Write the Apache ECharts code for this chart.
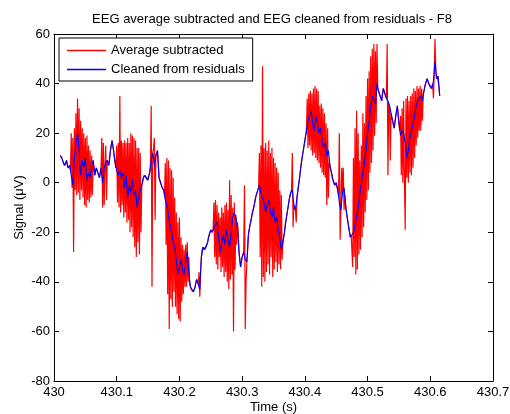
<!DOCTYPE html>
<html>
<head>
<meta charset="utf-8">
<script src="https://cdn.jsdelivr.net/npm/echarts@6/dist/echarts.min.js"></script>
<style>
  html, body { margin: 0; padding: 0; background: #fff; }
  #chart { width: 510px; height: 414px; }
</style>
</head>
<body>
<div id="chart"></div>
<script>
// Time base of the F8 channel excerpt (s)
const startTime = 430.01;
const averageStep = 0.00125;
const cleanedStep = 0.0025;

// EEG after average artifact subtraction (µV)
const averageSubtracted = [
  11, 10.5, 10, 9, 8, 7, 7, 8, 9, 7, 6, 6, 7, 5, 20, -2, 18, -28, 22, -3,
  28, -5, 34, -4, 30, -7, 25, -3, 22, -6, 20, -9, 18, -10, 19, -7, 15, -8, 13, -6,
  11, -5, 9, 6, 3, 5, 6, 5, 4, 3, 2, 4, 6, 18, -10, 16, -9, 6, 15, -7,
  9, 8, 7, 10, 13, 15, 17, 15, 13, 10, 8, 6, 15, -8, 16, -10, 35, -12, 17, -9,
  16, -14, 17, -12, 16, -16, 18, -15, 16, -20, 20, -18, 19, -22, 18, -26, 17, -30, 14, -24,
  14, -29, 12, -20, -1, 0, 2, 3, 3, 2, 2, 1, 1, 3, 4, 6, 31, -42, 12, 14,
  18, -15, 11, 12, 13, 8, 2, 1, 0, -1, -2, -2, -3, -5, 8, -25, 10, -45, 9, -59,
  6, -47, 5, -50, 2, -44, -6, -50, -12, -53, -16, -55, -14, -56, -22, -48, -25, -45, -27, -42,
  -25, -42, -24, -40, -30, -41, -42, -43, -43, -44, -44, -43, -42, -40, -39, -40, -41, -36, -46, -36,
  -30, -27, -26, -27, -27, -26, -26, -25, -24, -22, -21, -20, -19, -20, -20, -19, -8, -30, -7, -33,
  -9, -35, -12, -30, -14, -36, -10, -34, -12, -38, -9, -36, -8, -40, -11, -43, 1, -39, -5, -37,
  -10, -60, -8, -35, -13, -25, -16, -20, -28, -31, -34, -32, -30, -29, -28, -1, -59, -40, -32, -27,
  -21, -19, -17, -16, -14, -12, -11, -10, -8, -6, -5, -4, -3, -2, 12, -30, 15, -42, 47, -38,
  14, -40, 16, -36, 13, -33, 17, -37, 12, -30, 14, -38, 10, -35, 8, -32, 6, -36, 4, -33,
  -3, -35, -5, -31, -24, -22, -20, -17, -15, -13, -11, -9, -7, -5, -4, -3, 12, -18, -9, -10,
  -11, -16, -6, -3, -1, 1, 4, 7, 9, 11, 13, 15, 17, 19, 21, 34, 14, 36, 15, 37,
  13, 36, 11, 38, 12, 39, 10, 38, 9, 37, 8, 31, 6, 32, 4, 30, 3, 28, 2, 24,
  -9, 22, -6, 8, 7, 5, 4, 2, 1, 0, -1, -1, 0, -2, -3, -5, 20, -23, -11, 6,
  -4, 6, -11, -5, -9, -12, -14, -16, -18, -20, -22, -21, -21, -34, 10, -30, 22, -37, 29, -35,
  20, -29, 9, -27, 15, -22, 28, -18, 24, -12, 35, -7, 42, -3, 45, 4, 51, 8, 54, 13,
  56, 19, 53, 24, 56, 38, 37, 36, 35, 34, 33, 36, 38, 37, 36, 35, 34, 56, 3, 32,
  31, 9, 28, 26, 25, 23, 22, 25, 27, 29, 31, 27, 24, 21, 27, 3, 30, 0, 33, 2,
  -19, 34, 2, 35, 0, 33, 4, 35, 3, 36, 6, 38, 10, 37, 15, 39, 18, 38, 21, 39,
  21, 38, 25, 36, 37, 39, 40, 41, 42, 41, 40, 39, 39, 38, 38, 40, 34, 44, 58, 46,
  42, 43, 43, 39, 35
];

// EEG cleaned from residual artifacts (µV)
const cleanedFromResiduals = [
  11, 10, 8, 7, 9, 6, 7, 3, -1, 10,
  16, 20, 13, 3, 9, 6, 10, 1, 4, 2,
  7, 9, 3, 6, 4, 2, 6, 0, 6, 8,
  9, 7, 13, 17, 13, 8, 5, 3, 5, 2,
  4, -2, 3, -6, -1, -4, 1, -5, -3, -10,
  -6, -3, -1, 2, 3, 2, 1, 4, 9, 12,
  7, 11, 13, 2, 0, -2, -3, -7, -9, -13,
  -17, -20, -24, -26, -31, -37, -34, -31, -35, -37,
  -32, -28, -36, -42, -43, -44, -42, -39, -41, -43,
  -30, -26, -27, -26, -24, -21, -19, -20, -18, -18,
  -16, -22, -28, -24, -21, -25, -19, -23, -26, -20,
  -14, -12, -14, -18, -28, -34, -30, -28, -31, -32,
  -21, -17, -14, -11, -8, -5, -3, -1, -4, -6,
  -8, -12, -9, -7, -11, -14, -10, -16, -14, -19,
  -22, -27, -24, -20, -15, -11, -7, -4, -3, -9,
  -11, -6, -1, 4, 9, 13, 17, 21, 25, 27,
  29, 24, 21, 27, 24, 20, 22, 17, 14, 16,
  11, 13, 7, 4, 1, -1, 0, -3, -8, -11,
  -4, -2, -9, -14, -18, -22, -21, -20, -17, -14,
  -10, -5, 0, 4, 8, 13, 20, 25, 31, 35,
  33, 32, 40, 37, 35, 33, 38, 36, 34, 33,
  31, 28, 25, 22, 27, 31, 24, 19, 21, 20,
  16, 10, 13, 18, 21, 24, 27, 31, 33, 34,
  35, 33, 37, 40, 42, 40, 39, 38, 41, 49,
  42, 43, 35
];

const seriesNames = ['Average subtracted', 'Cleaned from residuals'];
const xTicks = [430, 430.1, 430.2, 430.3, 430.4, 430.5, 430.6, 430.7];
const yTicks = [-80, -60, -40, -20, 0, 20, 40, 60];

const FONT = '"Liberation Sans", Arial, Helvetica, sans-serif';

function toPairs(values, step) {
  return values.map((v, i) => [startTime + i * step, v]);
}

function tickLabel(v) {
  return String(Math.round(v * 10) / 10);
}

const axisLine = { show: true, onZero: false, lineStyle: { color: '#000', width: 1 } };
const axisTick = { show: true, inside: true, length: 5, lineStyle: { color: '#000', width: 1 } };

const xBase = {
  type: 'value',
  min: xTicks[0],
  max: xTicks[xTicks.length - 1],
  interval: 0.1,
  axisLine: axisLine,
  axisTick: axisTick,
  splitLine: { show: false }
};
const yBase = {
  type: 'value',
  min: yTicks[0],
  max: yTicks[yTicks.length - 1],
  interval: 20,
  axisLine: axisLine,
  axisTick: axisTick,
  splitLine: { show: false }
};

const chart = echarts.init(document.getElementById('chart'), null, { renderer: 'canvas' });

chart.setOption({
  animation: false,
  backgroundColor: '#fff',
  textStyle: { fontFamily: FONT },
  grid: { left: 54, right: 17, top: 34, bottom: 33, containLabel: false, outerBoundsMode: 'none' },
  graphic: [{
    type: 'text',
    x: 272,
    y: 19,
    style: {
      text: 'EEG average subtracted and EEG cleaned from residuals - F8',
      fill: '#000',
      fontSize: 13,
      fontFamily: FONT,
      align: 'center',
      verticalAlign: 'middle'
    }
  }],
  legend: {
    data: seriesNames,
    orient: 'vertical',
    left: 59,
    top: 38,
    padding: [6, 8, 5, 8],
    itemGap: 6,
    itemWidth: 39,
    itemHeight: 1.5,
    icon: 'rect',
    borderColor: '#000',
    borderWidth: 1,
    borderRadius: 0,
    backgroundColor: '#fff',
    textStyle: { color: '#000', fontSize: 13, fontFamily: FONT }
  },
  xAxis: [
    Object.assign({}, xBase, {
      position: 'bottom',
      axisLabel: { show: true, color: '#000', fontSize: 13, fontFamily: FONT, margin: 5, formatter: tickLabel },
      name: 'Time (s)',
      nameLocation: 'middle',
      nameGap: 20,
      nameMoveOverlap: false,
      nameTextStyle: { color: '#000', fontSize: 13, fontFamily: FONT }
    }),
    Object.assign({}, xBase, { position: 'top', axisLabel: { show: false } })
  ],
  yAxis: [
    Object.assign({}, yBase, {
      position: 'left',
      axisLabel: { show: true, color: '#000', fontSize: 13, fontFamily: FONT, margin: 4 },
      name: 'Signal (\u03bcV)',
      nameLocation: 'middle',
      nameGap: 28,
      nameMoveOverlap: false,
      nameTextStyle: { color: '#000', fontSize: 13, fontFamily: FONT }
    }),
    Object.assign({}, yBase, { position: 'right', axisLabel: { show: false } })
  ],
  series: [
    {
      name: seriesNames[0],
      type: 'line',
      data: toPairs(averageSubtracted, averageStep),
      symbol: 'none',
      showSymbol: false,
      color: '#ff0000',
      lineStyle: { color: '#ff0000', width: 1.2 },
      z: 2
    },
    {
      name: seriesNames[1],
      type: 'line',
      data: toPairs(cleanedFromResiduals, cleanedStep),
      symbol: 'none',
      showSymbol: false,
      color: '#0000ff',
      lineStyle: { color: '#0000ff', width: 1.1 },
      z: 3
    }
  ]
});
</script>
</body>
</html>
